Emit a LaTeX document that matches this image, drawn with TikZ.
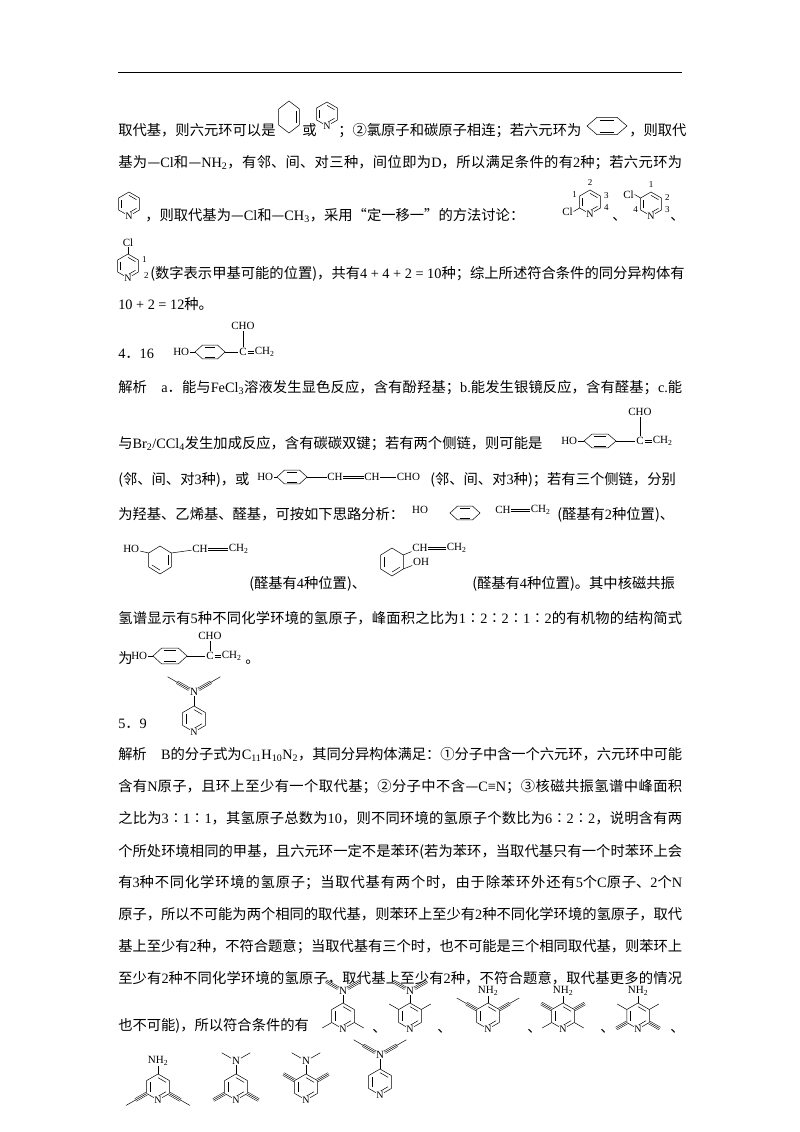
\documentclass[tikz,border=0pt]{standalone}
\usepackage{fontspec}
\setmainfont{Noto Sans CJK SC}
\newfontfamily\chemf{Liberation Serif}
\usetikzlibrary{calc}
\XeTeXlinebreaklocale "zh"
\XeTeXlinebreakskip=0pt plus 3pt minus 0.6pt
\newcommand\fs{\fontsize{14.3}{17}\selectfont}
\newcommand\rmx[1]{{\chemf #1}}
\newcommand\ring[6]{%
 \coordinate (#1c) at (#2,#3);
 \foreach \i in {1,...,6}{\coordinate (#1\i) at ($(#1c)+({#6+60*(\i-1)}:#4 and #5)$);}
 \draw (#11)--(#12)--(#13)--(#14)--(#15)--(#16)--cycle;}
\newcommand\inb[3]{\draw ($(#1c)!0.72!(#1#2)$) -- ($(#1c)!0.72!(#1#3)$);}
\newcommand\pyrN[4]{\ring{#1}{#2}{#3}{#4}{#4}{-90}\inb{#1}{1}{2}\inb{#1}{3}{4}\inb{#1}{5}{6}\node[nlab] at (#14) {N};}
\newcommand\trp[3]{\draw[double distance=2.4pt] #1 -- ++(#2:#3) coordinate(tend); \draw #1 -- ++(#2:#3);}
\newcommand\prp[3]{\trp{#1}{#2}{#3}\draw (tend) -- ++(#2:11);}
\newcommand\dbd[2]{\draw ([yshift=1.2pt]#1.east)--([yshift=1.2pt]#2.west) ([yshift=-1.2pt]#1.east)--([yshift=-1.2pt]#2.west);}
\newcommand\fl[2]{\node[txt] at (118,#1) {\parbox[b]{564pt}{\parfillskip=0pt\parindent=0pt\fs #2}};}
\tikzset{txt/.style={anchor=base west,inner sep=0,font=\fs},
 chem/.style={font=\chemf\fontsize{11}{11}\selectfont,inner sep=0.6pt},
 nlab/.style={font=\chemf\fontsize{10}{10}\selectfont,inner sep=0.4pt,fill=white},
 num/.style={font=\chemf\fontsize{9}{9}\selectfont,inner sep=0}}
\begin{document}
\begin{tikzpicture}[x=1pt,y=-1pt,line width=0.5pt]
\useasboundingbox[fill=white] (0,0) rectangle (800,1132);
\draw[line width=0.6pt] (118,72) -- (682,72);
% line 1
\node[txt] at (118,135) {取代基，则六元环可以是};
\ring{ra}{289}{117}{12}{16}{-90}\inb{ra}{2}{3}
\node[txt] at (302,135) {或};
\pyrN{rb}{327}{114}{12}
\node[txt] at (338,135) {；②氯原子和碳原子相连；若六元环为};
\ring{rc}{607}{126}{20}{10}{0}\inb{rc}{5}{6}\inb{rc}{2}{3}
\node[txt] at (629,135) {，则取代};
% line 2
\fl{167}{基为—\rmx{Cl}和—\rmx{NH\textsubscript{2}}，有邻、间、对三种，间位即为\rmx{D}，所以满足条件的有\rmx{2}种；若六元环为}
% line 3
\pyrN{rd}{129}{204}{12}
\node[txt] at (145,220) {，则取代基为—\rmx{Cl}和—\rmx{CH\textsubscript{3}}，采用“定一移一”的方法讨论：};
\pyrN{re}{590}{202}{12}
\draw (re5) -- ++(150:7) node[chem,anchor=east]{Cl};
\node[num] at ($(re6)+(-5,-1)$) {1};\node[num] at ($(re1)+(0,-7)$) {2};
\node[num] at ($(re2)+(6,0)$) {3};\node[num] at ($(re3)+(6,0)$) {4};
\node[txt] at (612,220) {、};
\pyrN{rf}{651}{204}{12}
\draw (rf6) -- ++(-150:7) node[chem,anchor=east]{Cl};
\node[num] at ($(rf1)+(0,-7)$) {1};\node[num] at ($(rf2)+(6,0)$) {2};
\node[num] at ($(rf3)+(6,0)$) {3};\node[num] at ($(rf5)+(-5,0)$) {4};
\node[txt] at (670,220) {、};
% line 4
\pyrN{rg}{128}{266}{12}
\draw (rg1) -- ++(-90:7) node[chem,anchor=south]{Cl};
\node[num] at ($(rg2)+(6,0)$) {1};\node[num] at ($(rg3)+(8,4)$) {2};
\node[txt] at (150,278) {(数字表示甲基可能的位置)，共有\rmx{4 + 4 + 2 = 10}种；综上所述符合条件的同分异构体有};
\node[txt] at (118,309) {\rmx{10 + 2 = 12}种。};
% 4. 16
\node[txt] at (118,358) {\rmx{4}．\rmx{16}};
\node[chem,anchor=east] (ho1) at (190,352) {HO};
\ring{rh}{210}{352}{15}{8}{0}\inb{rh}{5}{6}\inb{rh}{2}{3}
\node[chem] (c1) at (243,352) {C};
\node[chem,anchor=west] (ch1) at (254,352) {CH\textsubscript{2}};
\node[chem] (cho1) at (243,326) {CHO};
\draw (ho1)--(rh4) (rh1)--(c1) (c1)--(cho1);
\dbd{c1}{ch1}
% line 7
\fl{392}{解析\quad\rmx{a}．能与\rmx{FeCl\textsubscript{3}}溶液发生显色反应，含有酚羟基；\rmx{b.}能发生银镜反应，含有醛基；\rmx{c.}能}
% line 8
\node[txt] at (118,448) {与\rmx{Br\textsubscript{2}/CCl\textsubscript{4}}发生加成反应，含有碳碳双键；若有两个侧链，则可能是};
\node[chem,anchor=east] (ho2) at (578,441) {HO};
\ring{ri}{600}{441}{16}{8}{0}\inb{ri}{5}{6}\inb{ri}{2}{3}
\node[chem] (c2) at (640,441) {C};
\node[chem,anchor=west] (ch2) at (652,441) {CH\textsubscript{2}};
\node[chem] (cho2) at (640,412) {CHO};
\draw (ho2)--(ri4) (ri1)--(c2) (c2)--(cho2);
\dbd{c2}{ch2}
% line 9
\node[txt] at (118,484) {(邻、间、对\rmx{3}种)，或};
\node[chem,anchor=east] (ho3) at (274,477) {HO};
\ring{rj}{292}{477}{15}{8}{0}\inb{rj}{5}{6}\inb{rj}{2}{3}
\node[chem] (ch3a) at (335,477) {CH};
\node[chem] (ch3b) at (372,477) {CH};
\node[chem,anchor=west] (cho3) at (396,477) {CHO};
\draw (ho3)--(rj4) (rj1)--(ch3a) (ch3b)--(cho3);
\dbd{ch3a}{ch3b}
\node[txt] at (430,484) {(邻、间、对\rmx{3}种)；若有三个侧链，分别};
% line 10
\node[txt] at (118,519) {为羟基、乙烯基、醛基，可按如下思路分析：};
\node[chem] at (420,510) {HO};
\ring{rk}{465}{513}{15}{8}{0}\inb{rk}{5}{6}\inb{rk}{2}{3}
\node[chem] (ch4a) at (503,510) {CH};
\node[chem,anchor=west] (ch4b) at (530,510) {CH\textsubscript{2}};
\dbd{ch4a}{ch4b}
\node[txt] at (557,519) {(醛基有\rmx{2}种位置)、};
% line 11
\node[chem,anchor=east] (ho5) at (140,549) {HO};
\ring{rl}{160}{560}{13}{14}{-90}\inb{rl}{2}{3}\inb{rl}{4}{5}
\node[chem] (ch5a) at (200,549) {CH};
\node[chem,anchor=west] (ch5b) at (228,549) {CH\textsubscript{2}};
\draw (ho5)--(rl6) (rl2)--(ch5a);
\dbd{ch5a}{ch5b}
\node[txt] at (249,588) {(醛基有\rmx{4}种位置)、};
\ring{rm}{392}{562}{13}{14}{-90}\inb{rm}{3}{4}\inb{rm}{5}{6}
\node[chem] (ch6a) at (420,548) {CH};
\node[chem,anchor=west] (ch6b) at (446,548) {CH\textsubscript{2}};
\node[chem] (oh6) at (421,562) {OH};
\draw (rm2)--(ch6a) (rm3)--(oh6);
\dbd{ch6a}{ch6b}
\node[txt] at (472,588) {(醛基有\rmx{4}种位置)。其中核磁共振};
% line 12
\fl{623}{氢谱显示有\rmx{5}种不同化学环境的氢原子，峰面积之比为\rmx{1}∶\rmx{2}∶\rmx{2}∶\rmx{1}∶\rmx{2}的有机物的结构简式}
% line 13
\node[txt] at (118,663) {为};
\node[chem,anchor=east] (ho7) at (148,656) {HO};
\ring{rn}{170}{656}{17}{9}{0}\inb{rn}{5}{6}\inb{rn}{2}{3}
\node[chem] (c7) at (210,656) {C};
\node[chem,anchor=west] (ch7) at (221,656) {CH\textsubscript{2}};
\node[chem] (cho7) at (210,636) {CHO};
\draw (ho7)--(rn4) (rn1)--(c7) (c7)--(cho7);
\dbd{c7}{ch7}
\node[txt] at (245,663) {。};
% 5. 9
\node[chem] (nz) at (194,692) {N};
\pyrN{rz}{194}{719}{13}
\draw (rz1)--(nz);
\prp{(nz.150)}{-150}{14}
\prp{(nz.30)}{-30}{14}
\node[txt] at (118,728) {\rmx{5}．\rmx{9}};
% text lines
\fl{759}{解析\quad\rmx{B}的分子式为\rmx{C\textsubscript{11}H\textsubscript{10}N\textsubscript{2}}，其同分异构体满足：①分子中含一个六元环，六元环中可能}
\fl{791}{含有\rmx{N}原子，且环上至少有一个取代基；②分子中不含—\rmx{C≡N}；③核磁共振氢谱中峰面积}
\fl{823}{之比为\rmx{3}∶\rmx{1}∶\rmx{1}，其氢原子总数为\rmx{10}，则不同环境的氢原子个数比为\rmx{6}∶\rmx{2}∶\rmx{2}，说明含有两}
\fl{856}{个所处环境相同的甲基，且六元环一定不是苯环(若为苯环，当取代基只有一个时苯环上会}
\fl{887}{有\rmx{3}种不同化学环境的氢原子；当取代基有两个时，由于除苯环外还有\rmx{5}个\rmx{C}原子、\rmx{2}个\rmx{N}}
\fl{919}{原子，所以不可能为两个相同的取代基，则苯环上至少有\rmx{2}种不同化学环境的氢原子，取代}
\fl{951}{基上至少有\rmx{2}种，不符合题意；当取代基有三个时，也不可能是三个相同取代基，则苯环上}
\fl{983}{至少有\rmx{2}种不同化学环境的氢原子，取代基上至少有\rmx{2}种，不符合题意，取代基更多的情况}
\node[txt] at (118,1030) {也不可能)，所以符合条件的有};
% s1
\pyrN{sa}{343}{1016}{13}
\node[chem] (na) at ($(sa1)+(0,-12)$) {N}; \draw (sa1)--(na);
\trp{(na.150)}{-150}{14}\trp{(na.30)}{-30}{14}
\draw (sa5)--++(150:11) (sa3)--++(30:11);
\node[txt] at (372,1032) {、};
% s2
\pyrN{sb}{410}{1016}{13}
\node[chem] (nb) at ($(sb1)+(0,-12)$) {N}; \draw (sb1)--(nb);
\trp{(nb.150)}{-150}{14}\trp{(nb.30)}{-30}{14}
\draw (sb6)--++(-150:11) (sb2)--++(-30:11);
\node[txt] at (437,1032) {、};
% s3
\pyrN{sc}{488}{1016}{13}
\node[chem] (nc) at ($(sc1)+(0,-12)$) {NH\textsubscript{2}}; \draw (sc1)--(nc);
\prp{(sc6)}{-150}{12}\prp{(sc2)}{-30}{12}
\node[txt] at (527,1032) {、};
% s4
\pyrN{sd}{563}{1016}{13}
\node[chem] (nd) at ($(sd1)+(0,-12)$) {NH\textsubscript{2}}; \draw (sd1)--(nd);
\trp{(sd6)}{-150}{12}\trp{(sd2)}{-30}{12}
\draw (sd5)--++(150:11) (sd3)--++(30:11);
\node[txt] at (600,1032) {、};
% s5
\pyrN{se}{638}{1016}{13}
\node[chem] (ne) at ($(se1)+(0,-12)$) {NH\textsubscript{2}}; \draw (se1)--(ne);
\draw (se6)--++(-150:11) (se2)--++(-30:11);
\trp{(se5)}{150}{12}\trp{(se3)}{30}{12}
\node[txt] at (670,1032) {、};
% row 2
\pyrN{sf}{158}{1087}{13}
\node[chem] (nf) at ($(sf1)+(0,-13)$) {NH\textsubscript{2}}; \draw (sf1)--(nf);
\prp{(sf5)}{150}{13}\prp{(sf3)}{30}{13}
\pyrN{sg}{236}{1087}{13}
\node[chem] (ng) at ($(sg1)+(0,-13)$) {N}; \draw (sg1)--(ng);
\draw (ng.150)--++(-150:11) (ng.30)--++(-30:11);
\trp{(sg5)}{150}{13}\trp{(sg3)}{30}{13}
\pyrN{sh}{306}{1087}{13}
\node[chem] (nh) at ($(sh1)+(0,-13)$) {N}; \draw (sh1)--(nh);
\draw (nh.150)--++(-150:11) (nh.30)--++(-30:11);
\trp{(sh6)}{-150}{13}\trp{(sh2)}{-30}{13}
\pyrN{si}{380}{1082}{13}
\node[chem] (ni) at ($(si1)+(0,-14)$) {N}; \draw (si1)--(ni);
\prp{(ni.150)}{-150}{14}\prp{(ni.30)}{-30}{14}
\end{tikzpicture}
\end{document}
